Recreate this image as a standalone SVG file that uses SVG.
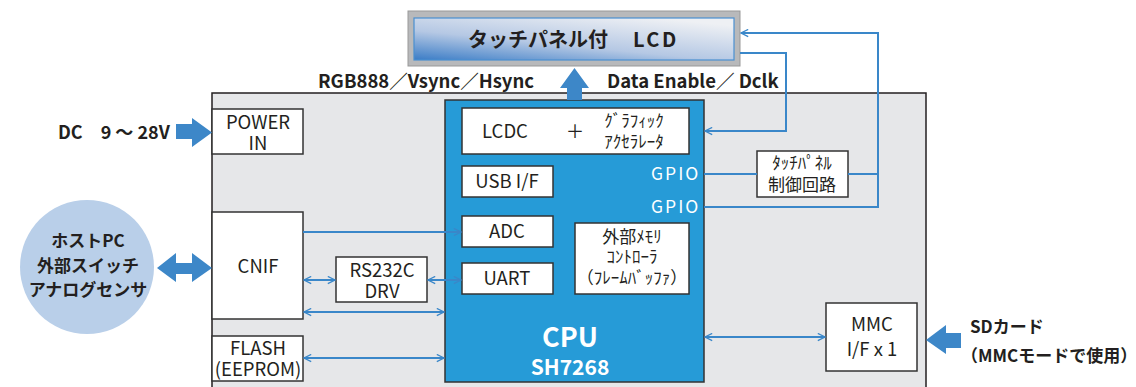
<svg xmlns="http://www.w3.org/2000/svg" width="1136" height="387" viewBox="0 0 1136 387">
<style>
text{font-family:"Noto Sans CJK JP","Noto Sans",sans-serif;fill:#231f20}
.b{font-weight:bold}
.box{fill:#fff;stroke:#333;stroke-width:1.5}
.lbl{font-size:18.5px;text-anchor:middle}
.sm{font-size:17px;text-anchor:middle}
.w{fill:#fff}
.con{fill:none;stroke:#3a87c9;stroke-width:2}
.fat{fill:#3d87c8}
</style>
<defs>
<marker id="ah" viewBox="0 0 10 10" refX="9" refY="5" markerWidth="9" markerHeight="9" markerUnits="userSpaceOnUse" orient="auto-start-reverse">
<path d="M1,1 L9,5 L1,9" fill="none" stroke="#3a87c9" stroke-width="1.4"/>
</marker>
<linearGradient id="lcdg" x1="0" y1="1" x2="0.75" y2="0">
<stop offset="0" stop-color="#3a7cc6"/>
<stop offset="0.45" stop-color="#b5c8e4"/>
<stop offset="1" stop-color="#eef0f4"/>
</linearGradient>
</defs>

<g id="board">
<rect x="212" y="93" width="714" height="300" fill="#e6e7e9" stroke="#231f20" stroke-width="1.5"/>
</g>

<g id="lcd">
<rect x="408" y="11" width="332" height="55" fill="#b8b9bb" stroke="#999" stroke-width="1"/>
<rect x="414" y="18" width="320" height="42" fill="url(#lcdg)" stroke="#4a8fd0" stroke-width="1.2"/>
<text x="468" y="47" class="b" font-size="20">タッチパネル付</text>
<text x="633" y="47" class="b" font-size="20" letter-spacing="2.5">LCD</text>
</g>

<g id="labels">
<text x="318" y="88" class="b" font-size="18.5">RGB888／Vsync／Hsync</text>
<text x="607" y="88" class="b" font-size="18.5">Data Enable／ Dclk</text>
<text x="58" y="139" class="b" font-size="18">DC　9 ～ 28V</text>
<text x="970" y="333" class="b" font-size="17">SDカード</text>
<text x="961" y="362" class="b" font-size="17">（MMCモードで使用）</text>
</g>

<g id="cpu">
<rect x="445" y="100" width="259" height="282" fill="#269bd7" stroke="#333" stroke-width="1.5"/>
<text x="570" y="347" class="b w" font-size="27" text-anchor="middle">CPU</text>
<text x="570" y="375" class="b w" font-size="21" text-anchor="middle">SH7268</text>
<text x="651" y="180" class="w" font-size="17.5" letter-spacing="2">GPIO</text>
<text x="651" y="213" class="w" font-size="17.5" letter-spacing="2">GPIO</text>
</g>
<g id="lcdc">
<rect class="box" x="462" y="108" width="227" height="46"/>
<text x="505" y="138" class="lbl">LCDC</text>
<text x="575" y="138" class="lbl" font-size="20">＋</text>
<text x="634" y="127" class="sm" font-size="16.5">ｸﾞﾗﾌｨｯｸ</text>
<text x="634" y="148" class="sm" font-size="16.5">ｱｸｾﾗﾚｰﾀ</text>
</g>
<g id="usb">
<rect class="box" x="462" y="166" width="91" height="31"/>
<text x="507" y="188" class="lbl">USB I/F</text>
</g>
<g id="adc">
<rect class="box" x="462" y="216" width="91" height="31"/>
<text x="507" y="238" class="lbl">ADC</text>
</g>
<g id="uart">
<rect class="box" x="462" y="263" width="91" height="31"/>
<text x="507" y="285" class="lbl">UART</text>
</g>
<g id="extmem">
<rect class="box" x="575" y="223" width="114" height="71"/>
<text x="632" y="243" class="sm">外部ﾒﾓﾘ</text>
<text x="632" y="263" class="sm">ｺﾝﾄﾛｰﾗ</text>
<text x="632" y="284" class="sm" font-size="15">（ﾌﾚｰﾑﾊﾞｯﾌｧ）</text>
</g>

<g id="touchctrl">
<rect class="box" x="757" y="151" width="91" height="46"/>
<text x="802" y="169" class="sm" font-size="16">ﾀｯﾁﾊﾟﾈﾙ</text>
<text x="802" y="191" class="sm" font-size="18">制御回路</text>
</g>

<g id="power">
<rect class="box" x="212" y="109" width="91" height="45"/>
<text x="258" y="129" class="lbl">POWER</text>
<text x="258" y="150" class="lbl">IN</text>
</g>
<g id="cnif">
<rect class="box" x="212" y="212" width="91" height="107"/>
<text x="258" y="273" class="lbl">CNIF</text>
</g>
<g id="rs232c">
<rect class="box" x="336" y="257" width="91" height="45"/>
<text x="382" y="277" class="lbl">RS232C</text>
<text x="382" y="298" class="lbl">DRV</text>
</g>
<g id="flash">
<rect class="box" x="212" y="336" width="91" height="45"/>
<text x="258" y="355" class="lbl">FLASH</text>
<text x="258" y="376" class="lbl">(EEPROM)</text>
</g>
<g id="mmc">
<rect class="box" x="826" y="303" width="91" height="68"/>
<text x="872" y="331" class="lbl">MMC</text>
<text x="872" y="356" class="lbl">I/F x 1</text>
</g>

<g id="host">
<circle cx="87" cy="267" r="67" fill="#b9cfe9"/>
<text x="88" y="247" class="b" font-size="17" text-anchor="middle">ホストPC</text>
<text x="88" y="272" class="b" font-size="17" text-anchor="middle">外部スイッチ</text>
<text x="88" y="296" class="b" font-size="17" text-anchor="middle">アナログセンサ</text>
</g>

<g id="connectors">
<polygon class="fat" points="567,100 567,88 560,88 574.5,68 589,88 582,88 582,100"/>
<polygon class="fat" points="176,124 192,124 192,118 212,132.5 192,147 192,139 176,139"/>
<polygon class="fat" points="157,268 176,253 176,263 192,263 192,253 212,268 192,282 192,274 176,274 176,282"/>
<polygon class="fat" points="926,340 946,325 946,333 961,333 961,348 946,348 946,354"/>
<line class="con" x1="303" y1="232" x2="461" y2="232" marker-end="url(#ah)"/>
<line class="con" x1="304" y1="280" x2="335" y2="280" marker-start="url(#ah)" marker-end="url(#ah)"/>
<line class="con" x1="428" y1="280" x2="461" y2="280" marker-start="url(#ah)" marker-end="url(#ah)"/>
<line class="con" x1="304" y1="312" x2="444" y2="312" marker-start="url(#ah)" marker-end="url(#ah)"/>
<line class="con" x1="304" y1="358" x2="444" y2="358" marker-start="url(#ah)" marker-end="url(#ah)"/>
<line class="con" x1="705" y1="337" x2="825" y2="337" marker-start="url(#ah)" marker-end="url(#ah)"/>
<line class="con" x1="704" y1="174" x2="757" y2="174"/>
<line class="con" x1="848" y1="174" x2="878" y2="174"/>
<polyline class="con" points="704,207 878,207 878,33 741,33" marker-end="url(#ah)"/>
<polyline class="con" points="740,53 786,53 786,131 705,131" marker-end="url(#ah)"/>
</g>
</svg>
